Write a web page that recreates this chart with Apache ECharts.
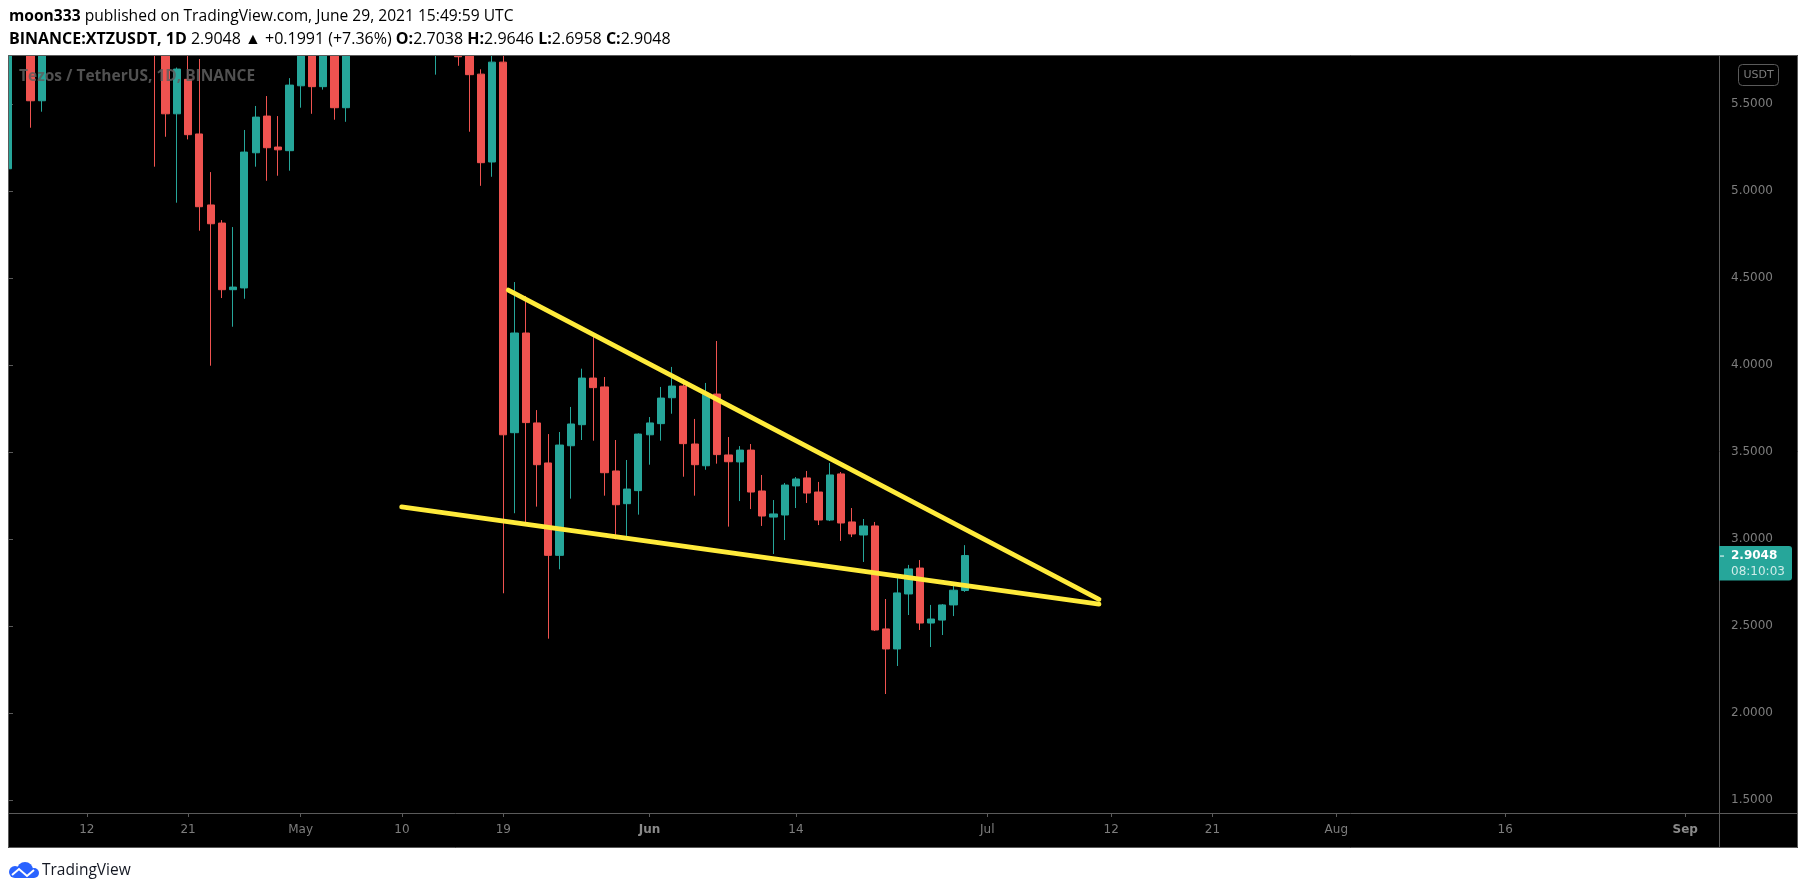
<!DOCTYPE html>
<html><head><meta charset="utf-8">
<script src="https://cdn.jsdelivr.net/npm/echarts@6/dist/echarts.min.js"></script>
<style>html,body{margin:0;padding:0;background:#fff}#c{width:1805px;height:895px}</style>
</head><body><div id="c"></div>
<script>
// ---- data ----
const startDate = '2021-04-05';
const dayCount = 153; // Apr 5 .. Sep 4 (future empty days included)
const opens  = [5.128,6.0,6.1,5.519,6.0,6.2,6.5,6.6,6.9,7.2,7.0,7.4,7.1,7.0,5.95,5.444,5.642,5.328,4.92,4.816,4.433,4.443,5.22,5.431,5.253,5.232,5.605,5.95,5.6,6.3,5.479,6.4,6.6,6.5,6.9,7.2,6.6,6.9,6.2,6.4,6.5,5.85,5.672,5.167,5.741,3.611,4.184,3.667,3.437,2.906,3.536,3.657,3.925,3.874,3.391,3.203,3.278,3.599,3.663,3.812,3.879,3.546,3.421,3.833,3.483,3.443,3.511,3.276,3.126,3.138,3.305,3.351,3.27,3.109,3.374,3.098,3.023,3.075,2.483,2.368,2.684,2.833,2.517,2.534,2.621,2.7038];
const closes = [6.0,6.1,5.519,6.0,6.2,6.5,6.6,6.9,7.2,7.0,7.4,7.1,7.0,5.95,5.444,5.701,5.324,4.91,4.812,4.433,4.448,5.224,5.425,5.249,5.237,5.609,5.95,5.6,6.3,5.479,6.4,6.6,6.5,6.9,7.2,6.6,6.9,6.3,6.4,6.5,5.772,5.669,5.163,5.741,3.599,4.184,3.669,3.427,2.906,3.54,3.661,3.925,3.87,3.381,3.197,3.287,3.603,3.667,3.81,3.879,3.548,3.427,3.833,3.485,3.444,3.511,3.27,3.132,3.144,3.31,3.345,3.264,3.109,3.368,3.092,3.029,3.075,2.477,2.368,2.69,2.828,2.517,2.54,2.621,2.7057,2.9048];
const lows   = [5.12,5.85,5.364,5.456,5.9,6.1,6.4,6.5,6.8,6.8,6.9,6.9,6.8,5.14,5.312,4.933,5.297,4.772,3.996,4.385,4.22,4.381,5.14,5.059,5.088,5.117,5.479,5.444,5.583,5.41,5.398,6.2,6.3,6.4,6.7,6.4,6.5,6.1,5.669,6.1,5.72,5.341,5.03,5.082,2.688,3.148,3.09,3.186,2.427,2.826,3.232,3.569,3.565,3.249,2.998,3.017,3.14,3.427,3.565,3.72,3.358,3.249,3.398,3.433,3.071,3.218,3.172,3.075,2.914,2.994,3.178,3.207,3.08,3.103,2.989,3.011,2.868,2.471,2.109,2.27,2.563,2.477,2.379,2.448,2.557,2.6958];
const highs  = [6.1,6.3,6.2,6.1,6.3,6.6,6.8,7.1,7.4,7.5,7.6,7.6,7.3,7.2,6.1,5.71,5.9,5.759,5.109,4.833,4.793,5.351,5.489,5.546,5.431,5.649,6.05,6.05,6.4,6.5,6.5,6.8,6.9,7.0,7.3,7.4,7.0,7.0,6.6,6.7,6.6,6.0,5.7,5.85,5.8,4.477,4.397,3.741,3.603,3.615,3.759,3.979,4.174,3.931,3.569,3.454,3.607,3.701,3.874,3.989,3.92,3.69,3.897,4.138,3.586,3.534,3.546,3.368,3.224,3.322,3.356,3.391,3.328,3.437,3.385,3.178,3.115,3.098,2.655,2.787,2.851,2.879,2.621,2.626,2.736,2.9646];
// trend lines: [day index from Apr 5, price]
const upperLine = [[44.45, 4.431], [96.92, 2.653]];
const lowerLine = [[34.97, 3.184], [96.92, 2.626]];
const priceTicks = [1.5, 2.0, 2.5, 3.0, 3.5, 4.0, 4.5, 5.0, 5.5];
const tickDates  = ['2021-04-12','2021-04-21','2021-05-01','2021-05-10','2021-05-19','2021-06-01','2021-06-14','2021-07-01','2021-07-12','2021-07-21','2021-08-01','2021-08-16','2021-09-01'];
const tickLabels = ['12','21','May','10','19','Jun','14','Jul','12','21','Aug','16','Sep'];
const boldLabels = ['Jun','Sep'];
const countdown = '08:10:03';

// ---- build ----
const dates = [];
{
  const d0 = new Date(startDate + 'T00:00:00Z');
  for (let i = 0; i < dayCount; i++) {
    const d = new Date(d0.getTime() + i * 86400000);
    dates.push(d.toISOString().slice(0, 10));
  }
}
const tickMap = {};
tickDates.forEach((d, i) => tickMap[d] = tickLabels[i]);
const candles = opens.map((o, i) => [o, closes[i], lows[i], highs[i]]);
const last = opens.length - 1;
const chg = closes[last] - closes[last - 1];
const pct = chg / closes[last - 1] * 100;

const UP = '#26a69a', DOWN = '#ef5350', AXC = '#5a5a5a', LBL = '#7d7d7d';
const FF = 'DejaVu Sans';

const chart = echarts.init(document.getElementById('c'));
const option = {
  animation: false,
  backgroundColor: '#ffffff',
  grid: { left: 8, right: 86, top: 55, bottom: 82 },
  xAxis: [{
    type: 'category', data: dates, boundaryGap: false,
    axisLine: { show: false },
    axisTick: { show: true, length: 4, interval: (i, v) => v in tickMap, lineStyle: { color: AXC } },
    axisLabel: {
      interval: (i, v) => v in tickMap, margin: 11,
      color: LBL, fontFamily: FF, fontSize: 12,
      formatter: v => { const t = tickMap[v] || ''; return boldLabels.includes(t) ? '{b|' + t + '}' : t; },
      rich: { b: { fontWeight: 'bold', color: '#8a8a8a', fontFamily: FF, fontSize: 12 } }
    },
    splitLine: { show: false }
  }, {
    type: 'value', min: 0, max: dayCount - 1, show: false
  }],
  yAxis: [{
    type: 'value', position: 'right', min: 1.425, max: 5.782, splitNumber: 9,
    axisLine: { show: false },
    axisTick: { show: true, length: 5, customValues: priceTicks, lineStyle: { color: AXC } },
    axisLabel: { customValues: priceTicks, formatter: v => v.toFixed(4), color: LBL, fontFamily: FF, fontSize: 12, margin: 12 },
    splitLine: { show: false }
  }],
  series: [{
    type: 'candlestick', xAxisIndex: 0, yAxisIndex: 0, data: candles, barWidth: 7.7, clip: true,
    itemStyle: { color: UP, color0: DOWN, borderColor: UP, borderColor0: DOWN, borderWidth: 1 }
  }, {
    type: 'line', xAxisIndex: 1, yAxisIndex: 0, data: upperLine, symbol: 'none', silent: true, z: 5,
    lineStyle: { color: '#ffeb3b', width: 4.8, cap: 'round' }
  }, {
    type: 'line', xAxisIndex: 1, yAxisIndex: 0, data: lowerLine, symbol: 'none', silent: true, z: 5,
    lineStyle: { color: '#ffeb3b', width: 4.8, cap: 'round' }
  }]
};
chart.setOption(option);

const yPx = chart.convertToPixel({ yAxisIndex: 0 }, closes[last]);
const HF = 'Open Sans';
const hdr = { fontFamily: HF, fontSize: 16, color: '#131722' };
const hdr1 = { fontFamily: HF, fontSize: 15.6, color: '#131722' };
const BLUE = '#2962ff';
const graphic = [
  { type: 'rect', z: 0, shape: { x: 8, y: 55, width: 1790, height: 793 }, style: { fill: '#000' } },
  // white margins that hide the parts of candles running past the plot edges
  { type: 'rect', z: 40, shape: { x: 0, y: 0, width: 1805, height: 55 }, style: { fill: '#fff' } },
  { type: 'rect', z: 40, shape: { x: 0, y: 0, width: 8, height: 895 }, style: { fill: '#fff' } },
  { type: 'rect', z: 50, shape: { x: 8.5, y: 55.5, width: 1789, height: 792 }, style: { fill: 'none', stroke: AXC, lineWidth: 1 } },
  { type: 'line', z: 50, shape: { x1: 8, y1: 813.5, x2: 1798, y2: 813.5 }, style: { stroke: AXC, lineWidth: 1 } },
  { type: 'line', z: 50, shape: { x1: 1719.5, y1: 55, x2: 1719.5, y2: 848 }, style: { stroke: AXC, lineWidth: 1 } },
  { type: 'text', z: 50, x: 19, y: 77, style: { text: 'Tezos / TetherUS, 1D, BINANCE', fill: 'rgba(95,95,95,0.85)', font: 'bold 15.5px "Open Sans"', verticalAlign: 'middle' } },
  { type: 'rect', z: 50, shape: { x: 1738.5, y: 64.5, width: 40, height: 21, r: 4 }, style: { fill: '#000', stroke: AXC, lineWidth: 1 } },
  { type: 'text', z: 51, x: 1758.5, y: 75, style: { text: 'USDT', fill: LBL, font: '11px "DejaVu Sans"', align: 'center', verticalAlign: 'middle' } },
  { type: 'rect', z: 52, shape: { x: 1719, y: yPx - 9.5, width: 73, height: 34.5, r: [0, 3, 3, 0] }, style: { fill: UP } },
  { type: 'line', z: 53, shape: { x1: 1720, y1: yPx + 0.5, x2: 1724, y2: yPx + 0.5 }, style: { stroke: '#ffffff', lineWidth: 1 } },
  { type: 'text', z: 53, x: 1731, y: yPx, style: { text: closes[last].toFixed(4), fill: '#ffffff', font: 'bold 12px "DejaVu Sans"', verticalAlign: 'middle' } },
  { type: 'text', z: 53, x: 1731, y: yPx + 16, style: { text: countdown, fill: 'rgba(255,255,255,0.78)', font: '12px "DejaVu Sans"', verticalAlign: 'middle' } },
  { type: 'text', z: 60, x: 9, y: 17, style: {
      text: '{b|moon333}{n| published on TradingView.com, June 29, 2021 15:49:59 UTC}',
      verticalAlign: 'middle',
      rich: { b: Object.assign({ fontWeight: 'bold' }, hdr1), n: hdr1 } } },
  { type: 'text', z: 60, x: 9, y: 39, style: {
      text: '{b|BINANCE:XTZUSDT, 1D}{n| ' + closes[last].toFixed(4) + ' }{t|▲}{n| ' + (chg >= 0 ? '+' : '') + chg.toFixed(4) + ' (' + (pct >= 0 ? '+' : '') + pct.toFixed(2) + '%) }' +
            '{b|O:}{t|' + opens[last].toFixed(4) + '}{b| H:}{t|' + highs[last].toFixed(4) + '}{b| L:}{t|' + lows[last].toFixed(4) + '}{b| C:}{t|' + closes[last].toFixed(4) + '}',
      verticalAlign: 'middle',
      rich: { b: Object.assign({ fontWeight: 'bold' }, hdr), n: hdr, t: Object.assign({}, hdr, { color: UP }) } } },
  { type: 'group', z: 60, x: 8, y: 862, children: [
      { type: 'circle', z: 60, shape: { cx: 7, cy: 10, r: 6 }, style: { fill: BLUE } },
      { type: 'circle', z: 60, shape: { cx: 17, cy: 8, r: 8 }, style: { fill: BLUE } },
      { type: 'circle', z: 60, shape: { cx: 26, cy: 11, r: 5 }, style: { fill: BLUE } },
      { type: 'rect', z: 60, shape: { x: 7, y: 10, width: 19, height: 6 }, style: { fill: BLUE } },
      { type: 'polyline', z: 61, shape: { points: [[4, 13], [11, 7], [19, 14], [26, 8]] }, style: { stroke: '#ffffff', lineWidth: 2, fill: 'none' } }
  ] },
  { type: 'text', z: 60, x: 42, y: 871, style: { text: 'TradingView', fill: '#131722', font: '15.5px "Open Sans"', verticalAlign: 'middle' } }
];
chart.setOption({ graphic: graphic });
</script>
</body></html>
